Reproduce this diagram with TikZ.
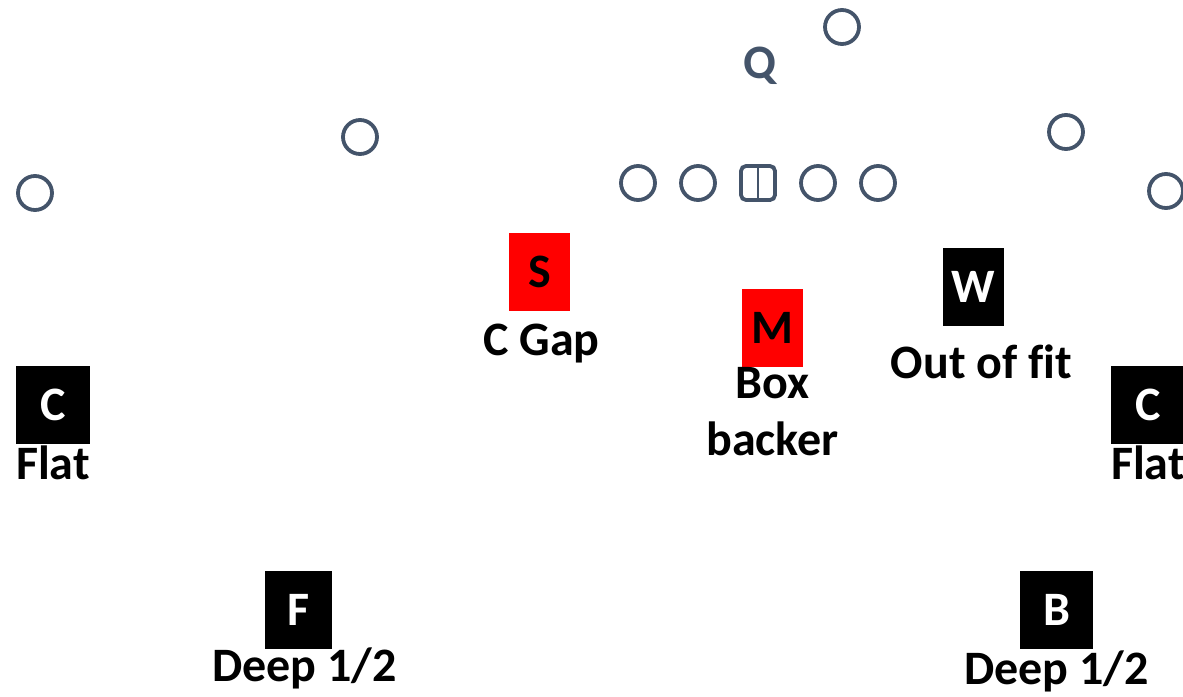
\documentclass[tikz,border=0pt]{standalone}
\usepackage{fontspec}
\setmainfont{Carlito}[Ligatures=NoCommon]
\usetikzlibrary{positioning}
\definecolor{slate}{HTML}{44546A}
\definecolor{blitzred}{HTML}{FF0000}
\tikzset{
  off/.style={circle,draw=slate,line width=3.8pt,minimum size=34pt,inner sep=0pt},
  def/.style={rectangle,fill=black,text=white,inner sep=0pt,minimum height=78pt,
    font=\fontsize{48}{57}\selectfont\bfseries},
  blitz/.style={def,fill=blitzred,text=black},
}

\begin{document}
\begin{tikzpicture}[x=1pt,y=-1pt,
    job/.style={inner sep=0pt,text height=31pt,text depth=10pt,
      font=\fontsize{48}{57}\selectfont\bfseries},
    jobm/.style={inner sep=0pt,align=center,
      font=\fontsize{48}{57}\selectfont\bfseries},]
  \clip (0,0) rectangle (1183,696);

  \node[off] (wr1) at (35,193) {};
  \node[off] (wr2) at (360,137) {};
  \node[off] (lt) at (638,183) {};
  \node[off] (lg) at (698,183) {};
  \node[off,rectangle,rounded corners=5pt] (ctr) at (758,183) {};
  \draw[slate,line width=1.5pt] (ctr.north) -- (ctr.south);
  \node[off] (rg) at (818,183) {};
  \node[off] (rt) at (878,183) {};
  \node[off] (hb) at (842,27) {};
  \node[off] (wr3) at (1066,132) {};
  \node[off] (wr4) at (1166,191) {};
  \node[text=slate,inner sep=0pt,font=\fontsize{48}{57}\selectfont\bfseries] (qb) at (760,66) {Q};

  \node[blitz,minimum width=61pt] (s) at (539.5,272) {S};
  \node[job,below=13pt of s,xshift=2pt] (sjob) {C Gap};
  \node[blitz,minimum width=61pt] (m) at (772.5,328) {M};
  \node[jobm,below=0pt of m] (mjob) {Box\\backer};
  \node[def,minimum width=61pt] (w) at (973.5,287) {W};
  \node[job,below=21pt of w,xshift=8pt] (wjob) {Out of fit};

  \node[def,minimum width=74pt] (c1) at (53,404.5) {C};
  \node[job,below=5pt of c1] (c1job) {Flat};
  \node[def,minimum width=74pt] (c2) at (1148,404.5) {C};
  \node[job,below=5pt of c2] (c2job) {Flat};

  \node[def,minimum width=67pt] (f) at (298.5,610) {F};
  \node[job,below=1pt of f,xshift=6pt] (fjob) {Deep 1/2};
  \node[def,minimum width=73pt] (b) at (1056.5,610) {B};
  \node[job,below=4pt of b] (bjob) {Deep 1/2};
\end{tikzpicture}
\end{document}
